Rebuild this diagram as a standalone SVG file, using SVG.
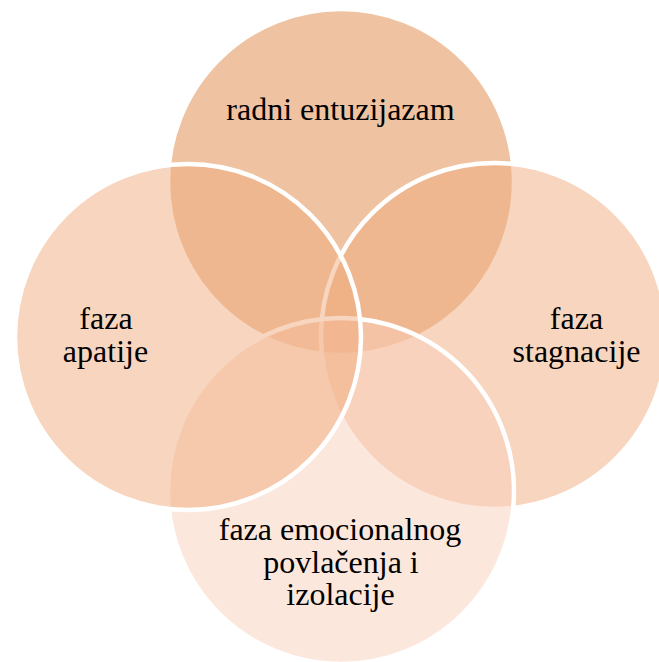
<svg xmlns="http://www.w3.org/2000/svg" width="659" height="662" viewBox="0 0 659 662">
<style>
.c{stroke:#FFFFFF;stroke-width:4.5;fill-opacity:0.5}
.t{font-family:"Liberation Serif","Times New Roman",serif;font-size:32px;fill:#000000;text-anchor:middle}
</style>
<rect width="659" height="662" fill="#FFFFFF"/>
<g id="connectors"></g>
<g id="node-top">
<circle class="c" cx="341" cy="182" r="173" fill="#DF8743"/>
</g>
<g id="node-right">
<circle class="c" cx="494" cy="336" r="173" fill="#EFAB7D"/>
</g>
<g id="node-bottom">
<circle class="c" cx="341" cy="491" r="173" fill="#F9CFBB"/>
</g>
<g id="node-left">
<circle class="c" cx="188" cy="337" r="173" fill="#EFAB7D"/>
</g>
<g id="labels">
<text class="t" x="340.5" y="120">radni entuzijazam</text>
<text class="t" x="106" y="329"><tspan x="106">faza</tspan><tspan x="105.5" dy="33">apatije</tspan></text>
<text class="t" x="576.5" y="329"><tspan x="576.5">faza</tspan><tspan x="576.5" dy="33">stagnacije</tspan></text>
<text class="t" x="340" y="540"><tspan x="340">faza emocionalnog</tspan><tspan x="341" dy="32.5">povlačenja i</tspan><tspan x="340.5" dy="32.5">izolacije</tspan></text>
</g>
</svg>
